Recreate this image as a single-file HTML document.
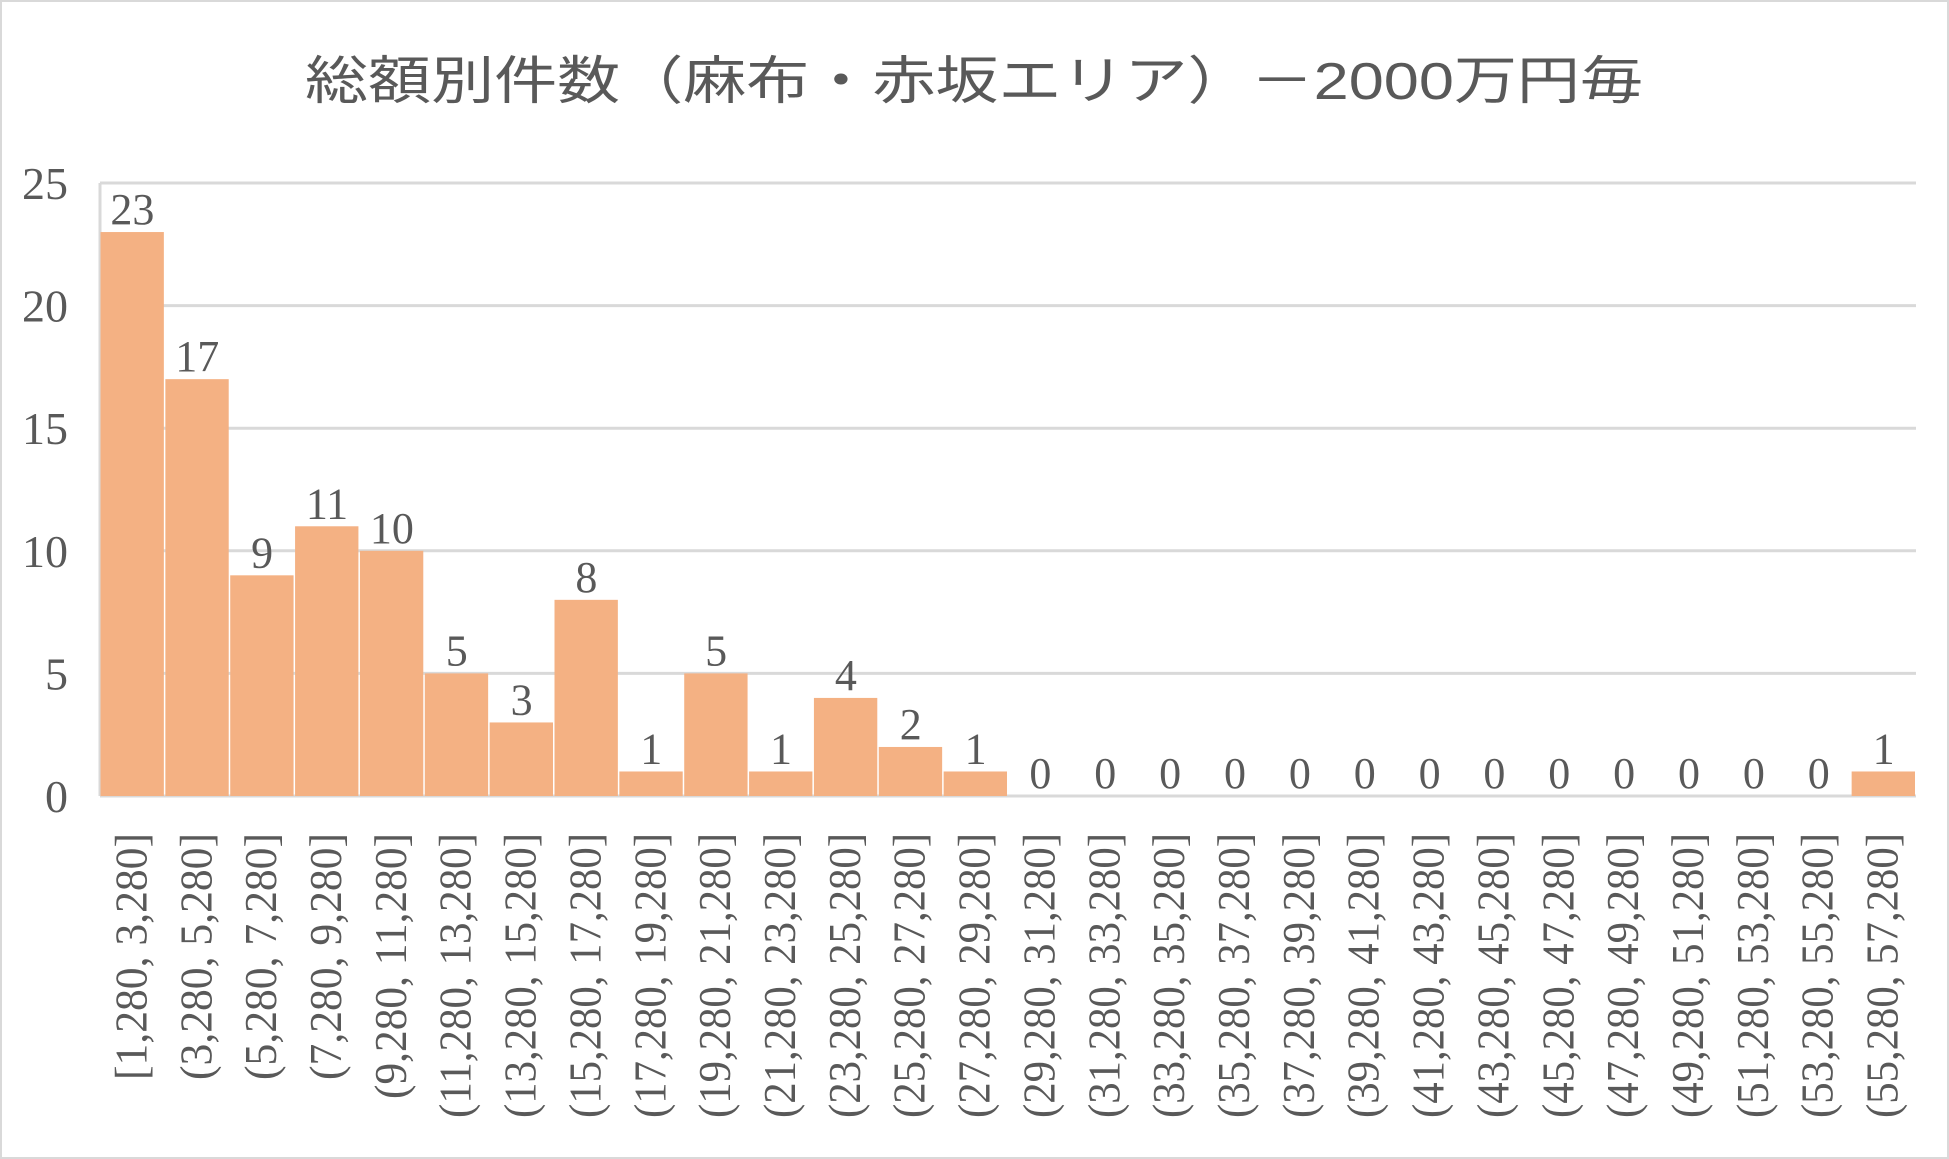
<!DOCTYPE html>
<html><head><meta charset="utf-8"><style>
html,body{margin:0;padding:0;background:#fff}
svg{display:block}
</style></head><body>
<svg id="chart" width="1949" height="1159" viewBox="0 0 1949 1159" xmlns="http://www.w3.org/2000/svg">
<rect x="1" y="1" width="1947" height="1157" fill="#fff" stroke="#d9d9d9" stroke-width="2"/>
<text x="974" y="99" text-anchor="middle" font-family="'Liberation Sans','Noto Sans CJK JP',sans-serif" font-size="52" fill="#595959" textLength="1338" lengthAdjust="spacingAndGlyphs">総額別件数（麻布・赤坂エリア）－2000万円毎</text>
<g id="grid"></g><g id="bars"></g><g id="labels"></g>
</svg>
<script>
const categories = ["[1,280, 3,280]","(3,280, 5,280]","(5,280, 7,280]","(7,280, 9,280]","(9,280, 11,280]","(11,280, 13,280]","(13,280, 15,280]","(15,280, 17,280]","(17,280, 19,280]","(19,280, 21,280]","(21,280, 23,280]","(23,280, 25,280]","(25,280, 27,280]","(27,280, 29,280]","(29,280, 31,280]","(31,280, 33,280]","(33,280, 35,280]","(35,280, 37,280]","(37,280, 39,280]","(39,280, 41,280]","(41,280, 43,280]","(43,280, 45,280]","(45,280, 47,280]","(47,280, 49,280]","(49,280, 51,280]","(51,280, 53,280]","(53,280, 55,280]","(55,280, 57,280]"];
const counts = [23,17,9,11,10,5,3,8,1,5,1,4,2,1,0,0,0,0,0,0,0,0,0,0,0,0,0,1];
const yTicks = [0,5,10,15,20,25];
</script>
<script>
const NS="http://www.w3.org/2000/svg";
const X0=100,X1=1916,Y0=796,Y1=183,YMAX=25;
const bw=(X1-X0)/categories.length;
const xs=i=>X0+i*bw;
const ys=v=>Y0-(v/YMAX)*(Y0-Y1);
const grid=document.getElementById('grid'),bars=document.getElementById('bars'),labels=document.getElementById('labels');
function mk(tag,attrs,parent,txt){const e=document.createElementNS(NS,tag);for(const k in attrs)e.setAttribute(k,attrs[k]);if(txt!==undefined)e.textContent=txt;parent.appendChild(e);return e;}
yTicks.forEach(t=>{
  const l=mk('line',{x1:X0,x2:X1,y1:ys(t),y2:ys(t),stroke:'#d9d9d9','stroke-width':3},grid);
  
  
  const tx=mk('text',{x:68,y:ys(t)+16,'text-anchor':'end','font-family':"'Liberation Serif',serif",'font-size':46,fill:'#595959'},grid,String(t));
  
  
});
mk('line',{x1:X0,x2:X0,y1:Y1,y2:Y0,stroke:'#d9d9d9','stroke-width':3},grid);
counts.forEach((v,i)=>{
  const x=xs(i),y=ys(v);
  if(v>0){
    const r=mk('rect',{x:x+0.5,y:y,width:bw-1.5,height:Y0-y,fill:'#f4b183'},bars);
    
    
  }
  const vl=mk('text',{x:x+bw/2,y:y-8,'text-anchor':'middle','font-family':"'Liberation Serif',serif",'font-size':44,fill:'#595959'},labels,String(v));
  
  
  const cx=x+bw/2+14;
  const cl=mk('text',{x:0,y:0,transform:`translate(${cx},833) rotate(-90)`,'text-anchor':'end','font-family':"'Liberation Serif',serif",'font-size':46,fill:'#595959',textLength:247,lengthAdjust:'spacingAndGlyphs'},labels,categories[i]);
  if(categories[i].length>14) cl.setAttribute('textLength',String(247+ (categories[i].length-14)*19));
  
  
});
</script>
</body></html>
